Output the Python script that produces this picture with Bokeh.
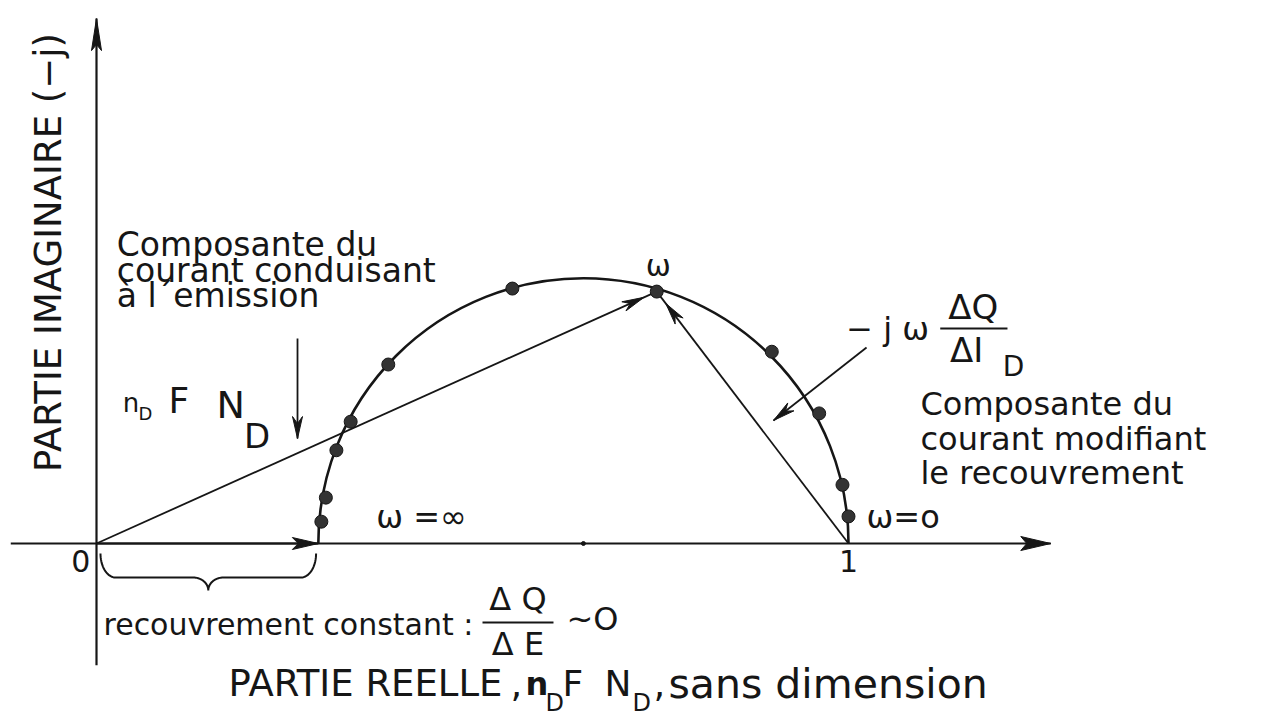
import numpy as np
from bokeh.plotting import figure
from bokeh.models import Label, Range1d
from bokeh.embed import file_html
from bokeh.resources import INLINE

# Normalised admittance locus: real part vs. (-j) imaginary part
re_pts = [0.299, 0.305, 0.319, 0.338, 0.388, 0.553, 0.745, 0.898, 0.961, 0.992, 1.000]
im_pts = [0.029, 0.061, 0.124, 0.162, 0.238, 0.339, 0.335, 0.255, 0.173, 0.078, 0.036]
omega_idx = 6          # the generic frequency point labelled "ω"
re_low_freq = 1.0      # ω = 0 intercept
re_high_freq = 0.295   # ω = ∞ intercept
tick_values = [0, 1]
tick_labels = ["0", "1"]

INK = "#161616"
FONT = "DejaVu Sans"
W, H = 1263, 724
SCALE = 752.0  # pixels per unit, same on both axes
X0, Y0 = 96, 543  # pixel position of the origin

p = figure(width=W, height=H, output_backend="svg", toolbar_location=None,
           x_range=Range1d(-X0 / SCALE, (W - X0) / SCALE),
           y_range=Range1d(-(H - Y0) / SCALE, Y0 / SCALE),
           x_axis_location=None, y_axis_location=None, min_border=0)
p.grid.visible = False
p.outline_line_color = None
p.background_fill_color = "white"
p.border_fill_color = "white"


def ty(pix):
    """vertical text centre given in pixels from the top -> data units"""
    return (Y0 - pix) / SCALE


def lab(x, ypix, s, size=31, align="left", angle=0, style="normal"):
    p.add_layout(Label(x=x, y=ty(ypix), text=s, text_font=FONT, text_font_size=f"{size}px",
                       text_align=align, text_baseline="middle", angle=angle,
                       text_color=INK, text_font_style=style))


def head(tx, ty_, dx, dy, length=22, half=5, notch=15):
    n = np.hypot(dx, dy)
    ux, uy = dx / n, dy / n
    L, h, nt = length / SCALE, half / SCALE, notch / SCALE
    bx, by = tx - ux * L, ty_ - uy * L
    nx, ny = -uy, ux
    p.patch([tx, bx + nx * h, tx - ux * nt, bx - nx * h],
            [ty_, by + ny * h, ty_ - uy * nt, by - ny * h],
            fill_color=INK, line_color=INK, line_width=1)


def arrow(x0, y0, x1, y1, width=1.8, back=0.0, **kw):
    """line from (x0,y0) to (x1,y1); head tip placed `back` pixels before the end"""
    p.line([x0, x1], [y0, y1], line_color=INK, line_width=width)
    dx, dy = x1 - x0, y1 - y0
    n = np.hypot(dx, dy)
    tx, tyy = x1 - dx / n * back / SCALE, y1 - dy / n * back / SCALE
    head(tx, tyy, dx, dy, **kw)


# axes with arrow tips
arrow(-0.114, 0, 1.269, 0, width=2.2, length=30, half=7, notch=24)
arrow(0, -0.162, 0, 0.698, width=2.2, length=32, half=5, notch=26)

# semicircle through the two real-axis intercepts
centre = (re_low_freq + re_high_freq) / 2
radius = (re_low_freq - re_high_freq) / 2
p.arc(x=[centre], y=[0], radius=radius, start_angle=0, end_angle=np.pi,
      line_color=INK, line_width=2.6)
p.scatter(x=[centre], y=[0], size=4, color=INK)

# vectors
wx, wy = re_pts[omega_idx], im_pts[omega_idx]
arrow(0, 0, wx, wy, back=14)
arrow(re_low_freq, 0, wx, wy, back=15)
arrow(0, 0, re_high_freq, 0, width=2.0, length=26, half=6, notch=20)

# measured points
p.scatter(x=re_pts, y=im_pts, size=13, fill_color="#333333", line_color=INK)

# tick labels
for v, t in zip(tick_values, tick_labels):
    lab(v - 0.021 if v == 0 else v, 560, t, size=30, align="center")

# left annotation
lab(0.027, 244, "Composante du", size=33)
lab(0.027, 270, "courant conduisant", size=33)
lab(0.027, 295, "à l´emission", size=33)
arrow(0.2673, 0.2726, 0.2673, 0.1396)
lab(0.035, 402, "n", size=26)
lab(0.056, 413, "D", size=18)
lab(0.0957, 400, "F", size=36)
lab(0.1596, 404, "N", size=38)
lab(0.196, 435, "D", size=34)

# frequency labels
lab(wx + 0.002, 265, "ω", size=30, align="center")
lab(0.372, 516, "ω =∞", size=32)
lab(1.024, 516, "ω=o", size=32)

# right annotation: -jω ΔQ/ΔI_D
lab(0.997, 328, "− j ω", size=32)
p.segment(x0=[1.122], y0=[ty(328)], x1=[1.2114], y1=[ty(328)], line_color=INK, line_width=2)
lab(1.166, 306, "ΔQ", size=34, align="center")
lab(1.157, 349, "ΔI", size=34, align="center")
lab(1.205, 366, "D", size=28)
arrow(1.024, 0.2606, 0.9003, 0.1636)
lab(1.0957, 403, "Composante du", size=32)
lab(1.0957, 438, "courant modifiant", size=32)
lab(1.0957, 472, "le recouvrement", size=32)

# brace under the constant part
x0b, x1b = 0.0053, re_high_freq - 0.003
ytop, ybot, ytip, rc = -0.0133, -0.0452, -0.0625, 0.02
xm = (x0b + x1b) / 2
t = np.linspace(0, np.pi / 2, 20)
bx = np.concatenate([x0b + rc * (1 - np.cos(t)),
                     xm - rc + rc * np.sin(t),
                     (xm + rc - rc * np.sin(t))[::-1],
                     (x1b - rc * (1 - np.cos(t)))[::-1]])
by = np.concatenate([ytop - (ytop - ybot) * np.sin(t),
                     ybot - (ybot - ytip) * (1 - np.cos(t)),
                     (ybot - (ybot - ytip) * (1 - np.cos(t)))[::-1],
                     (ytop - (ytop - ybot) * np.sin(t))[::-1]])
p.line(bx, by, line_color=INK, line_width=2)

lab(0.0093, 624, "recouvrement constant :", size=30)
p.segment(x0=[0.5133], y0=[ty(622)], x1=[0.6077], y1=[ty(622)], line_color=INK, line_width=2)
lab(0.5605, 598, "Δ Q", size=32, align="center")
lab(0.5605, 643, "Δ E", size=32, align="center")
lab(0.625, 618, "~O", size=32)

# axis titles
lab(-0.0638, 252, "PARTIE IMAGINAIRE (−j)", size=37, align="center", angle=np.pi / 2)
lab(0.1755, 683, "PARTIE REELLE", size=37)
lab(0.5505, 683, ",", size=37)
lab(0.5705, 683, "n", size=32, style="bold")
lab(0.597, 702, "D", size=24)
lab(0.6197, 683, "F", size=36)
lab(0.6755, 683, "N", size=36)
lab(0.7128, 702, "D", size=24)
lab(0.7407, 683, ",", size=37)
lab(0.7606, 683, "sans dimension", size=41)

open("out.html", "w").write(file_html(p, INLINE))
